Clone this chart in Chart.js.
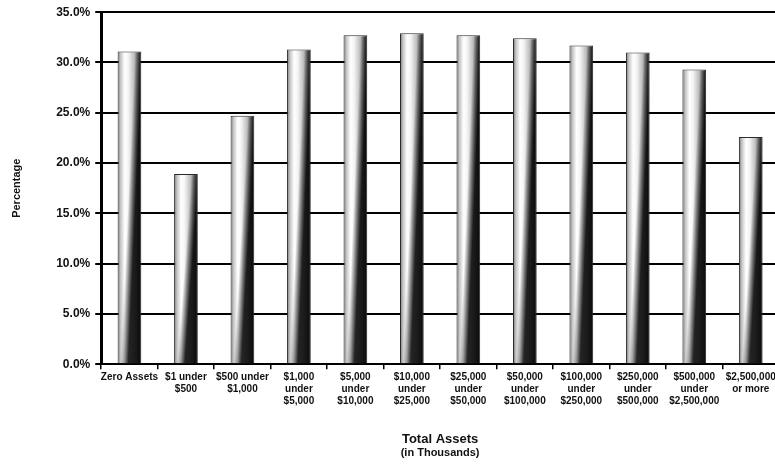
<!DOCTYPE html>
<html>
<head>
<meta charset="utf-8">
<script src="https://cdn.jsdelivr.net/npm/chart.js@4/dist/chart.umd.min.js"></script>
<style>
  html, body { margin: 0; padding: 0; background: #fff; overflow: hidden; }
  #wrap { width: 790px; height: 468px; }
</style>
</head>
<body>
<div id="wrap"><canvas id="grafico" width="790" height="468"></canvas></div>
<script>
// Total assets brackets (in thousands) and the share for each one
const categorias = [
  ["Zero Assets"],
  ["$1 under", "$500"],
  ["$500 under", "$1,000"],
  ["$1,000", "under", "$5,000"],
  ["$5,000", "under", "$10,000"],
  ["$10,000", "under", "$25,000"],
  ["$25,000", "under", "$50,000"],
  ["$50,000", "under", "$100,000"],
  ["$100,000", "under", "$250,000"],
  ["$250,000", "under", "$500,000"],
  ["$500,000", "under", "$2,500,000"],
  ["$2,500,000", "or more"],
];
const porcentajes = [31.1, 18.9, 24.7, 31.3, 32.7, 32.9, 32.7, 32.4, 31.7, 31.0, 29.3, 22.6];

const yMin = 0;
const yMax = 35;
const yPaso = 5;

const FUENTE = "'Liberation Sans', Arial, sans-serif";
const anchoBarra = 0.42;

// horizontal "cylinder" shading for each bar
function degradadoBarra(c) {
  const chart = c.chart;
  const xs = chart.scales.x;
  if (c.type !== "data" || !xs || !chart.chartArea) return "#cccccc";
  const cx = xs.getPixelForValue(c.dataIndex);
  const w = (xs.width / categorias.length) * anchoBarra;
  const g = chart.ctx.createLinearGradient(cx - w / 2, 0, cx + w / 2, 0);
  g.addColorStop(0, "#6e6e6e");
  g.addColorStop(0.12, "#c4c4c4");
  g.addColorStop(0.3, "#ffffff");
  g.addColorStop(0.45, "#f4f4f4");
  g.addColorStop(0.7, "#bcbcbc");
  g.addColorStop(0.88, "#7a7a7a");
  g.addColorStop(1, "#3a3a3a");
  return g;
}

// darker band that widens towards the bottom of each bar
const sombraBarras = {
  id: "sombraBarras",
  afterDatasetsDraw(chart) {
    const ctx = chart.ctx;
    const meta = chart.getDatasetMeta(0);
    meta.data.forEach((bar) => {
      const p = bar.getProps(["x", "y", "base", "width"], true);
      const x0 = p.x - p.width / 2 + 1;
      const w = p.width - 2;
      const top = p.y + 1;
      const h = p.base - p.y - 1;
      if (h <= 0) return;
      const k = 0.65;
      const e0 = 0.75, e1 = 1.1;
      const s = (k * w) / h;
      const lam = ((e1 - e0) * w) / (1 + s * s);
      const sx = x0 + e0 * w;
      const g = ctx.createLinearGradient(sx, top, sx + lam, top + lam * s);
      g.addColorStop(0, "rgba(0,0,0,0)");
      g.addColorStop(1, "rgba(0,0,0,0.85)");
      ctx.save();
      ctx.fillStyle = g;
      ctx.fillRect(x0, top, w, h);
      ctx.restore();
    });
  },
};

const ctx = document.getElementById("grafico").getContext("2d");
const grafico = new Chart(ctx, {
  type: "bar",
  data: {
    labels: categorias,
    datasets: [
      {
        data: porcentajes,
        backgroundColor: degradadoBarra,
        borderColor: "#2a2a2a",
        borderWidth: 1,
        barPercentage: anchoBarra,
        categoryPercentage: 1,
      },
    ],
  },
  options: {
    responsive: false,
    animation: false,
    layout: { padding: { left: 8, right: 11, top: 6, bottom: 4 } },
    plugins: {
      legend: { display: false },
      tooltip: { enabled: false },
      subtitle: {
        display: true,
        position: "bottom",
        fullSize: false,
        text: "(in Thousands)",
        color: "#111",
        font: { family: FUENTE, size: 11, weight: "bold" },
        padding: { top: 0, bottom: 4 },
      },
    },
    scales: {
      x: {
        grid: {
          display: true,
          drawOnChartArea: false,
          drawTicks: true,
          tickLength: 5,
          color: "#000",
          lineWidth: 1.5,
        },
        border: { display: true, color: "#000", width: 2 },
        ticks: {
          color: "#111",
          font: { family: FUENTE, size: 10, weight: "bold", lineHeight: 1.2 },
          maxRotation: 0,
          autoSkip: false,
          padding: 2,
        },
        title: {
          display: true,
          text: "Total Assets",
          color: "#111",
          font: { family: FUENTE, size: 13, weight: "bold" },
          padding: { top: 22, bottom: 0 },
        },
      },
      y: {
        min: yMin,
        max: yMax,
        ticks: {
          stepSize: yPaso,
          color: "#111",
          font: { family: FUENTE, size: 12, weight: "bold" },
          padding: 5,
          callback: (v) => v.toFixed(1) + "%",
        },
        grid: {
          color: "#000",
          lineWidth: 2,
          drawTicks: true,
          tickLength: 6,
        },
        border: { display: true, color: "#000", width: 3 },
        title: {
          display: true,
          text: "Percentage",
          color: "#111",
          font: { family: FUENTE, size: 11, weight: "bold" },
          padding: { top: 2, bottom: 28 },
        },
      },
    },
  },
  plugins: [sombraBarras],
});
</script>
</body>
</html>
